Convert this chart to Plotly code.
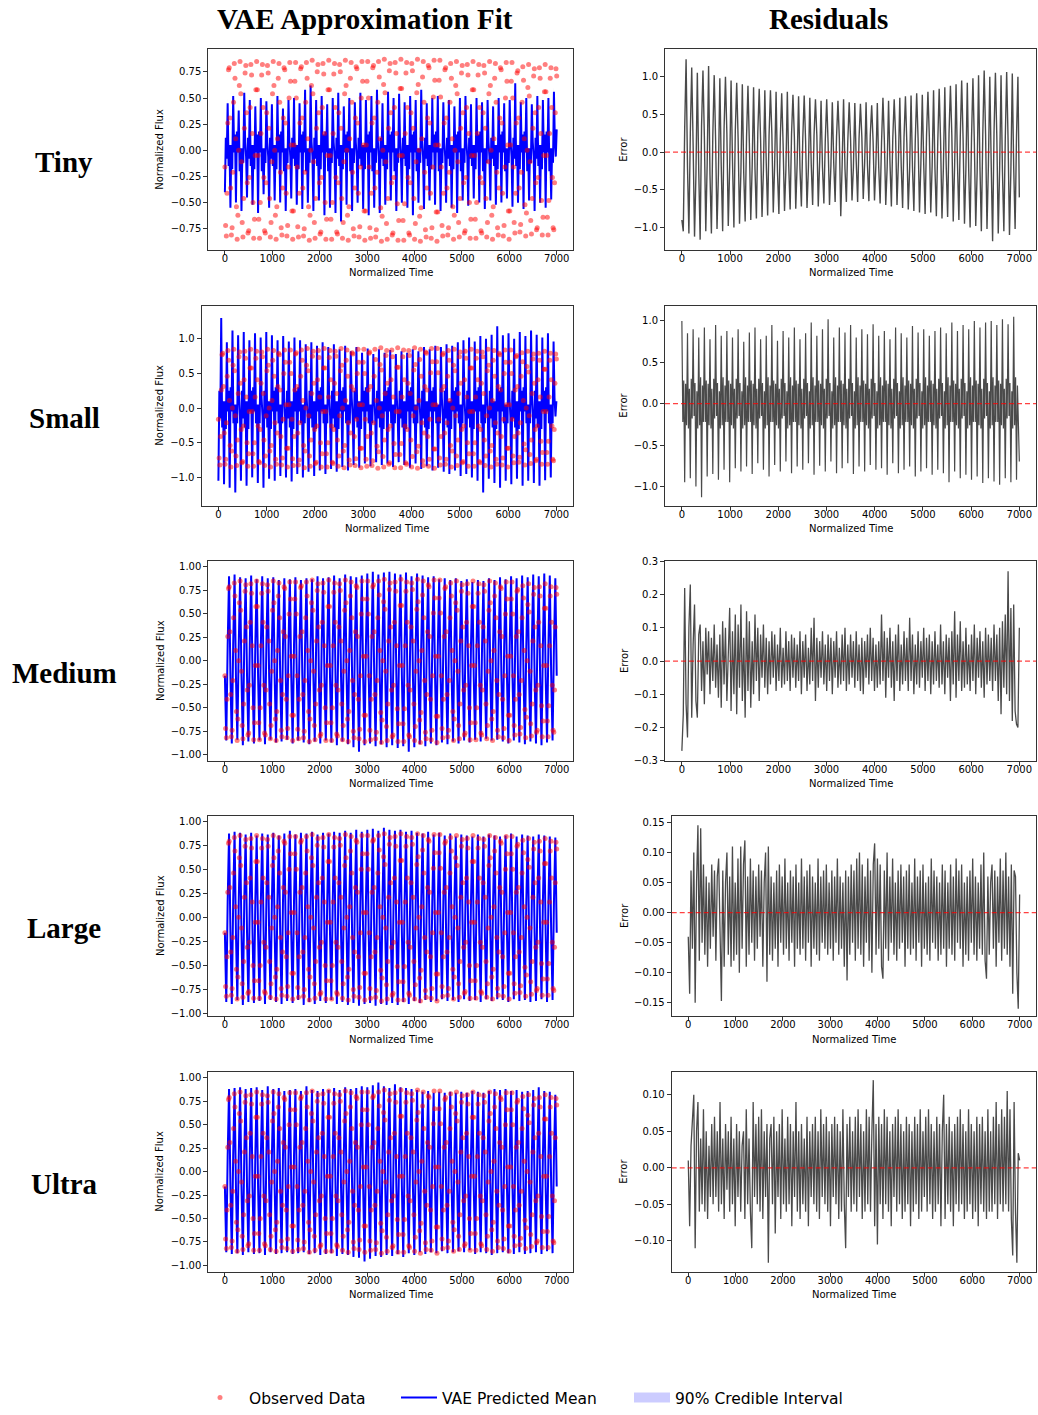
import numpy as np
import plotly.graph_objects as go

W, H = 1038, 1415

MODELS = ["Tiny", "Small", "Medium", "Large", "Ultra"]
COL_TITLES = ["VAE Approximation Fit", "Residuals"]
X_TITLE = "Normalized Time"
FLUX_TITLE = "Normalized Flux"
ERR_TITLE = "Error"
LEGEND_NAMES = ["Observed Data", "VAE Predicted Mean", "90% Credible Interval"]

# ---------------- observed data (same in every panel) ----------------
OBS_FLUX = [
    -0.16, -0.72, -0.82, -0.41, 0.26, 0.77, 0.79, 0.31, -0.36, -0.81,
    -0.74, -0.21, 0.46, 0.83, 0.69, 0.11, -0.54, -0.85, -0.62, 0.00,
    0.62, 0.85, 0.54, -0.11, -0.69, -0.83, -0.46, 0.21, 0.74, 0.81,
    0.36, -0.31, -0.79, -0.77, -0.26, 0.41, 0.82, 0.72, 0.16, -0.50,
    -0.84, -0.66, -0.05, 0.58, 0.85, 0.58, -0.05, -0.66, -0.84, -0.50,
    0.16, 0.72, 0.82, 0.41, -0.26, -0.77, -0.79, -0.31, 0.36, 0.81,
    0.74, 0.21, -0.46, -0.83, -0.69, -0.11, 0.54, 0.85, 0.62, 0.00,
    -0.62, -0.85, -0.54, 0.11, 0.69, 0.83, 0.46, -0.21, -0.74, -0.81,
    -0.36, 0.31, 0.79, 0.77, 0.26, -0.41, -0.82, -0.72, -0.16, 0.50,
    0.84, 0.66, 0.05, -0.58, -0.85, -0.58, 0.05, 0.66, 0.84, 0.50,
    -0.16, -0.73, -0.83, -0.41, 0.26, 0.78, 0.80, 0.31, -0.36, -0.82,
    -0.75, -0.21, 0.46, 0.84, 0.69, 0.11, -0.54, -0.86, -0.62, 0.00,
    0.62, 0.86, 0.54, -0.11, -0.69, -0.84, -0.46, 0.21, 0.75, 0.82,
    0.36, -0.31, -0.80, -0.78, -0.26, 0.41, 0.83, 0.73, 0.16, -0.50,
    -0.85, -0.66, -0.05, 0.58, 0.86, 0.58, -0.05, -0.66, -0.85, -0.50,
    0.16, 0.73, 0.83, 0.41, -0.26, -0.78, -0.80, -0.31, 0.36, 0.82,
    0.75, 0.21, -0.46, -0.84, -0.69, -0.11, 0.54, 0.86, 0.62, 0.00,
    -0.62, -0.86, -0.54, 0.11, 0.69, 0.84, 0.46, -0.21, -0.75, -0.82,
    -0.36, 0.31, 0.80, 0.78, 0.26, -0.41, -0.83, -0.73, -0.16, 0.50,
    0.85, 0.66, 0.05, -0.58, -0.86, -0.58, 0.05, 0.66, 0.85, 0.50,
    -0.16, -0.74, -0.84, -0.41, 0.26, 0.79, 0.81, 0.31, -0.36, -0.83,
    -0.76, -0.21, 0.46, 0.85, 0.70, 0.11, -0.55, -0.87, -0.63, 0.00,
    0.63, 0.87, 0.55, -0.11, -0.70, -0.85, -0.46, 0.21, 0.76, 0.83,
    0.36, -0.31, -0.81, -0.79, -0.26, 0.41, 0.84, 0.74, 0.16, -0.51,
    -0.86, -0.67, -0.05, 0.59, 0.87, 0.59, -0.05, -0.67, -0.86, -0.51,
    0.16, 0.74, 0.84, 0.41, -0.26, -0.79, -0.81, -0.31, 0.36, 0.83,
    0.76, 0.21, -0.46, -0.85, -0.70, -0.11, 0.55, 0.87, 0.63, 0.00,
    -0.63, -0.87, -0.55, 0.11, 0.70, 0.85, 0.46, -0.21, -0.76, -0.83,
    -0.36, 0.31, 0.81, 0.79, 0.26, -0.41, -0.84, -0.74, -0.16, 0.51,
    0.86, 0.67, 0.05, -0.59, -0.87, -0.59, 0.05, 0.67, 0.86, 0.51,
    -0.16, -0.72, -0.82, -0.41, 0.26, 0.77, 0.79, 0.31, -0.36, -0.81,
    -0.74, -0.21, 0.46, 0.83, 0.69, 0.11, -0.54, -0.85, -0.62, 0.00,
    0.62, 0.85, 0.54, -0.11, -0.69, -0.83, -0.46, 0.21, 0.74, 0.81,
    0.36, -0.31, -0.79, -0.77, -0.26, 0.41, 0.82, 0.72, 0.16, -0.50,
    -0.84, -0.66, -0.05, 0.58, 0.85, 0.58, -0.05, -0.66, -0.84, -0.50,
    0.16, 0.72, 0.82, 0.41, -0.26, -0.77, -0.79, -0.31, 0.36, 0.81,
    0.74, 0.21, -0.46, -0.83, -0.69, -0.11, 0.54, 0.85, 0.62, 0.00,
    -0.62, -0.85, -0.54, 0.11, 0.69, 0.83, 0.46, -0.21, -0.74, -0.81,
    -0.36, 0.31, 0.79, 0.77, 0.26, -0.41, -0.82, -0.72, -0.16, 0.50,
    0.84, 0.66, 0.05, -0.58, -0.85, -0.58, 0.05, 0.66, 0.84, 0.50,
    -0.16, -0.69, -0.79, -0.41, 0.26, 0.74, 0.76, 0.31, -0.36, -0.78,
    -0.71, -0.21, 0.46, 0.80, 0.67, 0.11, -0.52, -0.82, -0.60, 0.00,
    0.60, 0.82, 0.52, -0.11, -0.67, -0.80, -0.46, 0.21, 0.71, 0.78,
    0.36, -0.31, -0.76, -0.74, -0.26, 0.41, 0.79, 0.69, 0.16, -0.48,
    -0.81, -0.64, -0.05, 0.56, 0.82, 0.56, -0.05, -0.64, -0.81, -0.48,
    0.16, 0.69, 0.79, 0.41, -0.26, -0.74, -0.76, -0.31, 0.36, 0.78,
    0.71,
]

# ---------------- VAE predicted means ----------------
MEAN_TINY = [
    -0.40, 0.12, -0.08, 0.45, -0.15, 0.05, -0.55, 0.05, -0.18, 0.52, -0.02, 0.15, -0.50, 0.18, -0.02, 0.38, -0.20, 0.02,
    -0.58, 0.02, -0.12, 0.55, 0.08, -0.06, -0.45, 0.12, -0.08, 0.48, -0.15, 0.05,
    -0.52, 0.05, -0.18, 0.42, -0.02, 0.15, -0.60, 0.18, -0.02, 0.50, -0.20, 0.02, -0.42, 0.02, -0.12, 0.47, 0.08, -0.06,
    -0.55, 0.12, -0.08, 0.44, -0.15, 0.05, -0.48, 0.05, -0.18, 0.52, -0.02, 0.15,
    -0.50, 0.18, -0.02, 0.40, -0.20, 0.02, -0.58, 0.02, -0.12, 0.48, 0.08, -0.06, -0.46, 0.12, -0.08, 0.50, -0.15, 0.05,
    -0.52, 0.05, -0.18, 0.45, -0.02, 0.15, -0.56, 0.18, -0.02, 0.58, -0.20, 0.02,
    -0.50, 0.02, -0.12, 0.62, 0.08, -0.06, -0.58, 0.12, -0.08, 0.48, -0.15, 0.05, -0.48, 0.05, -0.18, 0.52, -0.02, 0.15,
    -0.62, 0.18, -0.02, 0.44, -0.20, 0.02, -0.55, 0.02, -0.12, 0.50, 0.08, -0.06,
    -0.60, 0.12, -0.08, 0.55, -0.15, 0.05, -0.68, 0.05, -0.18, 0.42, -0.02, 0.15, -0.52, 0.18, -0.02, 0.50, -0.20, 0.02,
    -0.58, 0.02, -0.12, 0.46, 0.08, -0.06, -0.50, 0.12, -0.08, 0.55, -0.15, 0.05,
    -0.56, 0.05, -0.18, 0.48, -0.02, 0.15, -0.62, 0.18, -0.02, 0.52, -0.20, 0.02, -0.55, 0.02, -0.12, 0.58, 0.08, -0.06,
    -0.60, 0.12, -0.08, 0.45, -0.15, 0.05, -0.52, 0.05, -0.18, 0.56, -0.02, 0.15,
    -0.48, 0.18, -0.02, 0.50, -0.20, 0.02, -0.58, 0.02, -0.12, 0.54, 0.08, -0.06, -0.50, 0.12, -0.08, 0.46, -0.15, 0.05,
    -0.55, 0.05, -0.18, 0.52, -0.02, 0.15, -0.62, 0.18, -0.02, 0.48, -0.20, 0.02,
    -0.50, 0.02, -0.12, 0.58, 0.08, -0.06, -0.56, 0.12, -0.08, 0.45, -0.15, 0.05, -0.48, 0.05, -0.18, 0.50, -0.02, 0.15,
    -0.52, 0.18, -0.02, 0.52, -0.20, 0.02, -0.58, 0.02, -0.12, 0.46, 0.08, -0.06,
    -0.50, 0.12, -0.08, 0.48, -0.15, 0.05, -0.55, 0.05, -0.18, 0.42, -0.02, 0.15, -0.60, 0.18, -0.02, 0.50, -0.20, 0.02,
    -0.48, 0.02, -0.12, 0.52, 0.08, -0.06, -0.53, 0.12, -0.08, 0.44, -0.15, 0.05,
    -0.46, 0.05, -0.18, 0.50, -0.02, 0.15, -0.50, 0.18, -0.02, 0.46, -0.20, 0.02, -0.56, 0.02, -0.12, 0.48, 0.08, -0.06,
    -0.48, 0.12, -0.08, 0.42, -0.15, 0.05, -0.52, 0.05, -0.18, 0.50, -0.02, 0.15,
    -0.50, 0.18, -0.02, 0.45, -0.20, 0.02, -0.46, 0.02, -0.12, 0.48, 0.08, -0.06, -0.54, 0.12, -0.08, 0.64, -0.15, 0.05,
    -0.50, 0.05, -0.18, 0.46, -0.02, 0.15, -0.56, 0.18, -0.02, 0.50, -0.20, 0.02,
    -0.48, 0.02, -0.12, 0.44, 0.08, -0.06, -0.58, 0.12, -0.08, 0.52, -0.15, 0.05, -0.50, 0.05, -0.18, 0.48, -0.02, 0.15,
    -0.55, 0.18, -0.02, 0.50, -0.20, 0.02, -0.47, 0.02, -0.12, 0.56, 0.08, -0.06,
    0.20,
]
MEAN_SMALL = [
    -1.05, 0.25, -0.15, 1.30, -0.28, 0.10, -1.10, 0.10, -0.30, 0.95, -0.05, 0.25, -1.15, 0.30, -0.05, 1.12, -0.22, 0.05,
    -1.22, 0.05, -0.22, 1.05, 0.15, -0.12, -1.05, 0.25, -0.15, 1.10, -0.28, 0.10,
    -1.12, 0.10, -0.30, 0.98, -0.05, 0.25, -1.00, 0.30, -0.05, 1.08, -0.22, 0.05, -1.08, 0.05, -0.22, 1.02, 0.15, -0.12,
    -1.15, 0.25, -0.15, 1.10, -0.28, 0.10, -1.02, 0.10, -0.30, 1.05, -0.05, 0.25,
    -1.05, 0.30, -0.05, 0.98, -0.22, 0.05, -0.98, 0.05, -0.22, 1.04, 0.15, -0.12, -1.00, 0.25, -0.15, 0.96, -0.28, 0.10,
    -1.06, 0.10, -0.30, 1.02, -0.05, 0.25, -0.95, 0.30, -0.05, 0.98, -0.22, 0.05,
    -1.00, 0.05, -0.22, 0.92, 0.15, -0.12, -0.92, 0.25, -0.15, 0.95, -0.28, 0.10, -0.98, 0.10, -0.30, 0.90, -0.05, 0.25,
    -0.90, 0.30, -0.05, 0.95, -0.22, 0.05, -0.95, 0.05, -0.22, 0.88, 0.15, -0.12,
    -0.88, 0.25, -0.15, 0.92, -0.28, 0.10, -0.92, 0.10, -0.30, 0.85, -0.05, 0.25, -0.85, 0.30, -0.05, 0.90, -0.22, 0.05,
    -0.90, 0.05, -0.22, 0.82, 0.15, -0.12, -0.82, 0.25, -0.15, 0.88, -0.28, 0.10,
    -0.86, 0.10, -0.30, 0.80, -0.05, 0.25, -0.80, 0.30, -0.05, 0.86, -0.22, 0.05, -0.84, 0.05, -0.22, 0.78, 0.15, -0.12,
    -0.78, 0.25, -0.15, 0.85, -0.28, 0.10, -0.82, 0.10, -0.30, 0.80, -0.05, 0.25,
    -0.80, 0.30, -0.05, 0.84, -0.22, 0.05, -0.85, 0.05, -0.22, 0.78, 0.15, -0.12, -0.78, 0.25, -0.15, 0.82, -0.28, 0.10,
    -0.82, 0.10, -0.30, 0.80, -0.05, 0.25, -0.86, 0.30, -0.05, 0.85, -0.22, 0.05,
    -0.80, 0.05, -0.22, 0.82, 0.15, -0.12, -0.88, 0.25, -0.15, 0.88, -0.28, 0.10, -0.84, 0.10, -0.30, 0.85, -0.05, 0.25,
    -0.90, 0.30, -0.05, 0.90, -0.22, 0.05, -0.86, 0.05, -0.22, 0.88, 0.15, -0.12,
    -0.92, 0.25, -0.15, 0.92, -0.28, 0.10, -0.95, 0.10, -0.30, 0.90, -0.05, 0.25, -0.90, 0.30, -0.05, 0.95, -0.22, 0.05,
    -0.98, 0.05, -0.22, 0.98, 0.15, -0.12, -0.95, 0.25, -0.15, 1.02, -0.28, 0.10,
    -1.00, 0.10, -0.30, 0.96, -0.05, 0.25, -1.05, 0.30, -0.05, 1.04, -0.22, 0.05, -1.22, 0.05, -0.22, 1.00, 0.15, -0.12,
    -1.02, 0.25, -0.15, 1.06, -0.28, 0.10, -1.08, 0.10, -0.30, 1.18, -0.05, 0.25,
    -1.15, 0.30, -0.05, 1.05, -0.22, 0.05, -1.05, 0.05, -0.22, 1.08, 0.15, -0.12, -1.10, 0.25, -0.15, 1.00, -0.28, 0.10,
    -1.02, 0.10, -0.30, 1.10, -0.05, 0.25, -1.12, 0.30, -0.05, 1.04, -0.22, 0.05,
    -1.05, 0.05, -0.22, 1.12, 0.15, -0.12, -1.08, 0.25, -0.15, 1.06, -0.28, 0.10, -1.12, 0.10, -0.30, 1.02, -0.05, 0.25,
    -1.04, 0.30, -0.05, 1.08, -0.22, 0.05, -1.00, 0.05, -0.22, 0.96, 0.15, -0.12,
    0.10,
]
MEAN_MEDIUM = [
    -0.16, -0.85, 0.16, 0.90, -0.15, -0.88, 0.17, 0.92, -0.17, -0.84, 0.15, 0.89, -0.16, -0.90, 0.16, 0.88, -0.15, -0.86, 0.17, 0.91,
    -0.17, -0.88, 0.16, 0.87, -0.16, -0.85, 0.15, 0.90, -0.15, -0.89, 0.16, 0.88, -0.16, -0.84, 0.17, 0.89, -0.17, -0.87, 0.16, 0.86,
    -0.16, -0.86, 0.15, 0.88, -0.15, -0.84, 0.16, 0.87, -0.16, -0.88, 0.17, 0.89, -0.17, -0.85, 0.16, 0.86, -0.16, -0.87, 0.15, 0.88,
    -0.15, -0.89, 0.16, 0.87, -0.16, -0.86, 0.17, 0.90, -0.17, -0.88, 0.16, 0.88, -0.16, -0.85, 0.15, 0.89, -0.15, -0.87, 0.16, 0.91,
    -0.16, -0.90, 0.17, 0.88, -0.17, -0.86, 0.16, 0.92, -0.16, -0.89, 0.15, 0.90, -0.15, -0.92, 0.16, 0.89, -0.16, -0.97, 0.17, 0.91,
    -0.17, -0.90, 0.16, 0.93, -0.16, -0.88, 0.15, 0.95, -0.15, -0.91, 0.16, 0.92, -0.16, -0.89, 0.17, 0.94, -0.17, -0.92, 0.16, 0.95,
    -0.16, -0.90, 0.15, 0.93, -0.15, -0.93, 0.16, 0.92, -0.16, -0.91, 0.17, 0.94, -0.17, -0.97, 0.16, 0.90, -0.16, -0.92, 0.15, 0.93,
    -0.15, -0.89, 0.16, 0.91, -0.16, -0.91, 0.17, 0.89, -0.17, -0.88, 0.16, 0.90, -0.16, -0.90, 0.15, 0.87, -0.15, -0.87, 0.16, 0.88,
    -0.16, -0.89, 0.17, 0.86, -0.17, -0.86, 0.16, 0.88, -0.16, -0.88, 0.15, 0.85, -0.15, -0.85, 0.16, 0.87, -0.16, -0.87, 0.17, 0.84,
    -0.17, -0.84, 0.16, 0.86, -0.16, -0.86, 0.15, 0.85, -0.15, -0.83, 0.16, 0.88, -0.16, -0.85, 0.17, 0.86, -0.17, -0.84, 0.16, 0.89,
    -0.16, -0.86, 0.15, 0.87, -0.15, -0.88, 0.16, 0.90, -0.16, -0.85, 0.17, 0.88, -0.17, -0.87, 0.16, 0.91, -0.16, -0.89, 0.15, 0.89,
    -0.15, -0.86, 0.16, 0.92, -0.16, -0.88, 0.17, 0.90, -0.17, -0.90, 0.16, 0.93, -0.16, -0.87, 0.15, 0.91, -0.15, -0.85, 0.16, 0.88,
    -0.16,
]
MEAN_LARGE = [
    -0.16, -0.88, 0.16, 0.87, -0.15, -0.90, 0.17, 0.89, -0.17, -0.86, 0.15, 0.88, -0.16, -0.91, 0.16, 0.86, -0.15, -0.88, 0.17, 0.88,
    -0.17, -0.89, 0.16, 0.85, -0.16, -0.87, 0.15, 0.87, -0.15, -0.90, 0.16, 0.86, -0.16, -0.86, 0.17, 0.88, -0.17, -0.88, 0.16, 0.85,
    -0.16, -0.90, 0.15, 0.87, -0.15, -0.87, 0.16, 0.90, -0.16, -0.89, 0.17, 0.86, -0.17, -0.86, 0.16, 0.88, -0.16, -0.91, 0.15, 0.87,
    -0.15, -0.88, 0.16, 0.89, -0.16, -0.90, 0.17, 0.86, -0.17, -0.87, 0.16, 0.88, -0.16, -0.89, 0.15, 0.87, -0.15, -0.86, 0.16, 0.89,
    -0.16, -0.90, 0.17, 0.88, -0.17, -0.88, 0.16, 0.90, -0.16, -0.91, 0.15, 0.88, -0.15, -0.89, 0.16, 0.91, -0.16, -0.92, 0.17, 0.89,
    -0.17, -0.90, 0.16, 0.91, -0.16, -0.89, 0.15, 0.92, -0.15, -0.92, 0.16, 0.90, -0.16, -0.90, 0.17, 0.93, -0.17, -0.91, 0.16, 0.91,
    -0.16, -0.89, 0.15, 0.90, -0.15, -0.91, 0.16, 0.91, -0.16, -0.88, 0.17, 0.89, -0.17, -0.90, 0.16, 0.90, -0.16, -0.87, 0.15, 0.88,
    -0.15, -0.89, 0.16, 0.87, -0.16, -0.86, 0.17, 0.89, -0.17, -0.88, 0.16, 0.86, -0.16, -0.87, 0.15, 0.88, -0.15, -0.85, 0.16, 0.85,
    -0.16, -0.87, 0.17, 0.87, -0.17, -0.86, 0.16, 0.84, -0.16, -0.88, 0.15, 0.86, -0.15, -0.85, 0.16, 0.85, -0.16, -0.87, 0.17, 0.84,
    -0.17, -0.86, 0.16, 0.86, -0.16, -0.88, 0.15, 0.84, -0.15, -0.85, 0.16, 0.86, -0.16, -0.87, 0.17, 0.85, -0.17, -0.85, 0.16, 0.84,
    -0.16, -0.86, 0.15, 0.85, -0.15, -0.88, 0.16, 0.87, -0.16, -0.85, 0.17, 0.84, -0.17, -0.87, 0.16, 0.86, -0.16, -0.86, 0.15, 0.85,
    -0.15, -0.88, 0.16, 0.84, -0.16, -0.87, 0.17, 0.86, -0.17, -0.85, 0.16, 0.85, -0.16, -0.88, 0.15, 0.84, -0.15, -0.86, 0.16, 0.83,
    -0.16,
]
MEAN_ULTRA = [
    -0.16, -0.86, 0.16, 0.88, -0.15, -0.88, 0.17, 0.89, -0.17, -0.87, 0.15, 0.90, -0.16, -0.89, 0.16, 0.88, -0.15, -0.86, 0.17, 0.89,
    -0.17, -0.88, 0.16, 0.90, -0.16, -0.87, 0.15, 0.87, -0.15, -0.89, 0.16, 0.91, -0.16, -0.86, 0.17, 0.88, -0.17, -0.88, 0.16, 0.89,
    -0.16, -0.87, 0.15, 0.86, -0.15, -0.86, 0.16, 0.87, -0.16, -0.88, 0.17, 0.88, -0.17, -0.87, 0.16, 0.86, -0.16, -0.86, 0.15, 0.91,
    -0.15, -0.88, 0.16, 0.87, -0.16, -0.87, 0.17, 0.86, -0.17, -0.89, 0.16, 0.88, -0.16, -0.88, 0.15, 0.87, -0.15, -0.87, 0.16, 0.89,
    -0.16, -0.90, 0.17, 0.87, -0.17, -0.88, 0.16, 0.90, -0.16, -0.89, 0.15, 0.88, -0.15, -0.91, 0.16, 0.89, -0.16, -0.92, 0.17, 0.91,
    -0.17, -0.96, 0.16, 0.90, -0.16, -0.93, 0.15, 0.92, -0.15, -0.90, 0.16, 0.95, -0.16, -0.91, 0.17, 0.91, -0.17, -0.89, 0.16, 0.89,
    -0.16, -0.90, 0.15, 0.93, -0.15, -0.88, 0.16, 0.90, -0.16, -0.91, 0.17, 0.89, -0.17, -0.87, 0.16, 0.88, -0.16, -0.89, 0.15, 0.87,
    -0.15, -0.86, 0.16, 0.85, -0.16, -0.88, 0.17, 0.86, -0.17, -0.86, 0.16, 0.84, -0.16, -0.87, 0.15, 0.85, -0.15, -0.85, 0.16, 0.84,
    -0.16, -0.87, 0.17, 0.85, -0.17, -0.86, 0.16, 0.84, -0.16, -0.85, 0.15, 0.85, -0.15, -0.86, 0.16, 0.84, -0.16, -0.84, 0.17, 0.86,
    -0.17, -0.88, 0.16, 0.85, -0.16, -0.86, 0.15, 0.84, -0.15, -0.87, 0.16, 0.86, -0.16, -0.89, 0.17, 0.88, -0.17, -0.87, 0.16, 0.87,
    -0.16, -0.86, 0.15, 0.88, -0.15, -0.87, 0.16, 0.86, -0.16, -0.88, 0.17, 0.87, -0.17, -0.86, 0.16, 0.85, -0.16, -0.88, 0.15, 0.86,
    -0.15, -0.87, 0.16, 0.87, -0.16, -0.86, 0.17, 0.90, -0.17, -0.88, 0.16, 0.86, -0.16, -0.85, 0.15, 0.85, -0.15, -0.87, 0.16, 0.82,
    -0.16,
]

# ---------------- residuals ----------------
RESID_TINY = [
    -0.90, -1.05, 0.30, 1.23, -0.20, -1.08, 0.25, 1.12, 0.10, -1.12, -0.30, 1.05, -0.25, -1.16, 0.35, 1.08, 0.20, -1.05, -0.15, 1.14,
    -0.30, -1.08, 0.22, 1.02, 0.15, -1.02, -0.28, 0.98, -0.18, -1.05, 0.30, 1.00, 0.25, -0.98, -0.20, 0.95, -0.12, -1.00, 0.28, 0.92,
    0.18, -0.95, -0.25, 0.90, -0.28, -0.92, 0.20, 0.88, 0.12, -0.90, -0.18, 0.86, -0.22, -0.88, 0.26, 0.84, 0.16, -0.86, -0.24, 0.82,
    -0.14, -0.84, 0.22, 0.82, 0.24, -0.80, -0.16, 0.80, -0.26, -0.82, 0.18, 0.78, 0.10, -0.78, -0.22, 0.80, -0.18, -0.76, 0.24, 0.76,
    0.20, -0.75, -0.14, 0.74, -0.22, -0.72, 0.18, 0.75, 0.14, -0.74, -0.20, 0.72, -0.16, -0.70, 0.22, 0.70, 0.22, -0.72, -0.12, 0.68,
    -0.20, -0.68, 0.16, 0.70, 0.12, -0.70, -0.18, 0.66, -0.14, -0.66, 0.20, 0.68, 0.18, -0.85, -0.16, 0.70, -0.22, -0.66, 0.14, 0.66,
    0.16, -0.64, -0.20, 0.65, -0.12, -0.66, 0.18, 0.64, 0.20, -0.62, -0.14, 0.66, -0.18, -0.65, 0.22, 0.62, 0.14, -0.64, -0.16, 0.65,
    -0.20, -0.68, 0.12, 0.72, 0.16, -0.70, -0.20, 0.68, -0.14, -0.72, 0.18, 0.70, 0.22, -0.70, -0.12, 0.72, -0.18, -0.74, 0.20, 0.74,
    0.12, -0.76, -0.22, 0.75, -0.20, -0.78, 0.16, 0.78, 0.18, -0.80, -0.14, 0.76, -0.16, -0.82, 0.22, 0.80, 0.20, -0.80, -0.18, 0.82,
    -0.22, -0.85, 0.14, 0.84, 0.14, -0.88, -0.20, 0.86, -0.18, -0.86, 0.24, 0.88, 0.22, -0.92, -0.16, 0.90, -0.14, -0.90, 0.20, 0.95,
    0.18, -0.95, -0.22, 0.92, -0.24, -1.00, 0.18, 0.98, 0.14, -0.98, -0.26, 1.02, -0.20, -1.05, 0.22, 1.08, 0.24, -1.02, -0.18, 1.00,
    -0.16, -1.18, 0.26, 1.05, 0.20, -1.08, -0.22, 1.02, -0.26, -1.05, 0.18, 1.06, 0.16, -1.10, -0.24, 1.04, -0.20, -1.02, 0.22, 1.00,
    -0.60,
]
RESID_SMALL = [
    1.00, -0.22, 0.28, -0.95, 0.24, -0.26, 0.85, -0.30, 0.18, -0.90, 0.30, -0.18, 0.90, -0.15, 0.25, -1.00, 0.15, -0.30,
    0.80, -0.26, 0.32, -1.13, 0.22, -0.22, 0.92, -0.22, 0.28, -0.88, 0.24, -0.26,
    0.78, -0.30, 0.18, -0.85, 0.30, -0.18, 0.95, -0.15, 0.25, -0.92, 0.15, -0.30, 0.82, -0.26, 0.32, -0.80, 0.22, -0.22,
    0.88, -0.22, 0.28, -0.95, 0.24, -0.26, 0.80, -0.30, 0.18, -0.78, 0.30, -0.18,
    0.90, -0.15, 0.25, -0.82, 0.15, -0.30, 0.75, -0.26, 0.32, -0.76, 0.22, -0.22, 0.86, -0.22, 0.28, -0.85, 0.24, -0.26,
    0.92, -0.30, 0.18, -0.72, 0.30, -0.18, 0.78, -0.15, 0.25, -0.80, 0.15, -0.30,
    0.82, -0.26, 0.32, -0.88, 0.22, -0.22, 0.95, -0.22, 0.28, -0.74, 0.24, -0.26, 0.76, -0.30, 0.18, -0.82, 0.30, -0.18,
    0.88, -0.15, 0.25, -0.70, 0.15, -0.30, 0.80, -0.26, 0.32, -0.84, 0.22, -0.22,
    0.92, -0.22, 0.28, -0.76, 0.24, -0.26, 0.78, -0.30, 0.18, -0.80, 0.30, -0.18, 0.85, -0.15, 0.25, -0.72, 0.15, -0.30,
    0.98, -0.26, 0.32, -0.86, 0.22, -0.22, 0.82, -0.22, 0.28, -0.75, 0.24, -0.26,
    0.90, -0.30, 0.18, -0.82, 0.30, -0.18, 1.02, -0.15, 0.25, -0.70, 0.15, -0.30, 0.80, -0.26, 0.32, -0.84, 0.22, -0.22,
    0.92, -0.22, 0.28, -0.78, 0.24, -0.26, 0.86, -0.30, 0.18, -0.72, 0.30, -0.18,
    0.95, -0.15, 0.25, -0.85, 0.15, -0.30, 0.80, -0.26, 0.32, -0.76, 0.22, -0.22, 0.90, -0.22, 0.28, -0.82, 0.24, -0.26,
    0.84, -0.30, 0.18, -0.74, 0.30, -0.18, 0.96, -0.15, 0.25, -0.80, 0.15, -0.30,
    0.82, -0.26, 0.32, -0.78, 0.22, -0.22, 0.88, -0.22, 0.28, -0.86, 0.24, -0.26, 0.78, -0.30, 0.18, -0.72, 0.30, -0.18,
    0.92, -0.15, 0.25, -0.84, 0.15, -0.30, 0.85, -0.26, 0.32, -0.80, 0.22, -0.22,
    0.80, -0.22, 0.28, -0.76, 0.24, -0.26, 0.94, -0.30, 0.18, -0.88, 0.30, -0.18, 0.86, -0.15, 0.25, -0.82, 0.15, -0.30,
    0.90, -0.26, 0.32, -0.78, 0.22, -0.22, 0.82, -0.22, 0.28, -0.86, 0.24, -0.26,
    0.88, -0.30, 0.18, -0.80, 0.30, -0.18, 0.92, -0.15, 0.25, -0.84, 0.15, -0.30, 0.85, -0.26, 0.32, -0.95, 0.22, -0.22,
    0.98, -0.22, 0.28, -0.82, 0.24, -0.26, 0.88, -0.30, 0.18, -0.90, 0.30, -0.18,
    0.95, -0.15, 0.25, -0.86, 0.15, -0.30, 0.90, -0.26, 0.32, -0.92, 0.22, -0.22, 1.00, -0.22, 0.28, -0.88, 0.24, -0.26,
    0.92, -0.30, 0.18, -0.96, 0.30, -0.18, 0.98, -0.15, 0.25, -0.90, 0.15, -0.30,
    1.00, -0.26, 0.32, -0.94, 0.22, -0.22, 0.95, -0.22, 0.28, -0.98, 0.24, -0.26, 1.02, -0.30, 0.18, -0.90, 0.30, -0.18,
    0.96, -0.15, 0.25, -0.95, 0.15, -0.30, 1.05, -0.26, 0.32, -0.92, 0.22, -0.22,
    -0.70,
]
RESID_MEDIUM = [
    -0.27, -0.16, 0.22, -0.13, -0.23, 0.10, 0.23, -0.17, 0.05, 0.17, -0.12, -0.17, 0.08, 0.11, -0.09, 0.06, -0.13, 0.10, -0.04, 0.09,
    -0.10, 0.07, -0.06, 0.11, -0.08, 0.05, -0.11, 0.08, -0.14, 0.12, -0.07, 0.10, -0.12, 0.06, 0.16, -0.15, 0.09, -0.10, 0.14, -0.16,
    0.11, -0.08, 0.17, -0.12, 0.07, -0.17, 0.15, -0.09, 0.12, -0.14, 0.06, -0.10, 0.14, -0.06, 0.10, -0.12, 0.08, -0.05, 0.11, -0.08,
    0.07, -0.10, 0.06, -0.07, 0.09, -0.05, 0.08, -0.09, 0.05, -0.06, 0.10, -0.08, 0.04, -0.07, 0.09, -0.06, 0.06, -0.09, 0.08, -0.05,
    0.07, -0.08, 0.05, -0.06, 0.09, -0.10, 0.06, -0.05, 0.08, -0.09, 0.04, -0.07, 0.10, -0.06, 0.13, -0.12, 0.07, -0.08, 0.06, -0.05,
    0.09, -0.07, 0.05, -0.09, 0.08, -0.06, 0.07, -0.10, 0.06, -0.05, 0.09, -0.08, 0.04, -0.07, 0.08, -0.06, 0.10, -0.09, 0.05, -0.07,
    0.08, -0.05, 0.06, -0.08, 0.09, -0.06, 0.05, -0.09, 0.07, -0.10, 0.06, -0.05, 0.08, -0.07, 0.10, -0.06, 0.07, -0.09, 0.05, -0.08,
    0.06, -0.07, 0.14, -0.06, 0.09, -0.11, 0.07, -0.05, 0.10, -0.08, 0.06, -0.12, 0.08, -0.06, 0.11, -0.09, 0.05, -0.07, 0.09, -0.06,
    0.07, -0.09, 0.13, -0.06, 0.08, -0.10, 0.05, -0.07, 0.09, -0.08, 0.06, -0.05, 0.10, -0.09, 0.07, -0.06, 0.08, -0.10, 0.06, -0.07,
    0.09, -0.06, 0.05, -0.08, 0.11, -0.07, 0.06, -0.10, 0.08, -0.05, 0.07, -0.12, 0.09, -0.07, 0.15, -0.11, 0.08, -0.06, 0.12, -0.09,
    0.06, -0.08, 0.10, -0.07, 0.05, -0.09, 0.08, -0.06, 0.11, -0.10, 0.07, -0.05, 0.09, -0.08, 0.06, -0.11, 0.10, -0.07, 0.08, -0.06,
    0.07, -0.09, 0.11, -0.06, 0.08, -0.12, 0.10, -0.16, 0.12, -0.08, 0.14, -0.10, 0.27, -0.12, 0.16, -0.18, 0.17, -0.15, -0.19, -0.20,
    0.10,
]
RESID_LARGE = [
    -0.04, -0.135, 0.07, -0.06, 0.10, -0.15, 0.05, 0.145, -0.08, 0.14, -0.05, 0.08, -0.07, 0.06, -0.09, 0.05, -0.06, 0.08, -0.04, 0.07,
    -0.08, 0.06, 0.09, -0.05, -0.147, 0.07, -0.09, 0.05, 0.10, -0.07, 0.06, -0.09, 0.11, -0.08, 0.05, -0.07, 0.09, -0.10, 0.11, -0.06,
    0.08, 0.12, -0.09, 0.06, -0.07, 0.09, -0.05, 0.07, -0.08, 0.06, -0.06, 0.08, -0.04, 0.07, -0.09, 0.05, 0.10, -0.115, 0.11, -0.07,
    0.06, -0.08, 0.05, -0.06, 0.07, -0.09, 0.08, -0.05, 0.06, -0.07, 0.09, -0.06, 0.05, -0.08, 0.07, -0.05, 0.06, -0.09, 0.08, -0.06,
    0.05, -0.07, 0.09, -0.06, 0.06, -0.08, 0.07, -0.05, 0.08, -0.09, 0.06, -0.06, 0.05, -0.07, 0.09, -0.08, 0.06, -0.05, 0.07, -0.06,
    0.08, -0.07, 0.05, -0.06, 0.07, -0.08, 0.06, -0.05, 0.09, -0.07, 0.06, -0.06, 0.05, -0.09, 0.07, -0.113, 0.06, -0.07, 0.08, -0.05,
    0.07, -0.08, 0.09, -0.06, 0.10, -0.07, 0.08, -0.09, 0.06, -0.05, 0.09, -0.08, 0.07, -0.10, 0.08, 0.115, -0.07, 0.09, -0.06, 0.08,
    -0.09, -0.11, 0.07, -0.06, 0.10, -0.08, 0.06, -0.05, 0.09, -0.07, 0.05, -0.08, 0.07, -0.06, 0.08, -0.05, 0.06, -0.09, 0.07, -0.06,
    0.08, -0.07, 0.05, -0.06, 0.09, -0.08, 0.06, -0.05, 0.07, -0.09, 0.08, -0.06, 0.05, -0.07, 0.06, -0.08, 0.09, -0.05, 0.07, -0.06,
    0.06, -0.08, 0.05, -0.07, 0.08, -0.06, 0.07, -0.09, 0.05, -0.06, 0.08, -0.07, 0.06, -0.08, 0.09, -0.05, 0.07, -0.06, 0.08, -0.09,
    0.05, -0.07, 0.06, -0.08, 0.07, -0.05, 0.09, -0.07, 0.06, -0.08, 0.05, -0.06, 0.08, -0.07, 0.10, -0.08, -0.11, 0.06, -0.07, 0.05,
    0.08, -0.06, 0.07, -0.09, 0.06, -0.05, 0.09, -0.08, 0.07, -0.06, 0.10, -0.07, 0.06, -0.09, 0.08, -0.135, 0.07, 0.06, -0.10, -0.16,
    0.03,
]
RESID_ULTRA = [
    0.01, -0.08, 0.03, 0.07, 0.10, -0.11, 0.05, 0.09, -0.06, 0.04, -0.05, 0.08, -0.06, 0.05, -0.07, 0.03, -0.04, 0.06, -0.05, 0.07,
    -0.04, 0.05, -0.06, 0.09, -0.05, 0.04, -0.07, 0.06, -0.03, 0.05, -0.06, 0.07, -0.05, 0.04, -0.08, 0.06, -0.04, 0.05, -0.06, 0.03,
    0.05, -0.07, 0.08, -0.05, 0.04, -0.06, -0.11, 0.09, -0.04, 0.06, -0.05, 0.07, -0.06, 0.08, -0.07, 0.05, -0.04, 0.06, -0.13, 0.04,
    0.06, -0.05, 0.07, -0.09, 0.05, -0.04, 0.06, -0.07, 0.08, -0.05, 0.04, -0.06, 0.07, -0.05, 0.06, -0.08, 0.05, -0.04, 0.09, -0.06,
    0.05, -0.07, 0.06, -0.05, 0.04, -0.06, 0.07, -0.08, 0.05, -0.04, 0.06, -0.05, 0.07, -0.06, 0.05, -0.07, 0.08, -0.04, 0.06, -0.05,
    0.07, -0.06, 0.05, -0.08, 0.06, -0.04, 0.07, -0.05, 0.06, -0.07, 0.05, -0.06, 0.08, -0.05, -0.11, 0.06, -0.04, 0.07, -0.06, 0.05,
    -0.05, 0.07, -0.06, 0.08, -0.04, 0.06, -0.07, 0.05, -0.06, 0.08, -0.05, 0.07, -0.06, 0.05, 0.12, -0.08, 0.06, -0.105, 0.07, -0.05,
    0.06, -0.07, 0.08, -0.05, 0.07, -0.06, 0.05, -0.08, 0.06, -0.04, 0.07, -0.06, 0.08, -0.05, 0.06, -0.07, 0.05, -0.06, 0.07, -0.05,
    0.06, -0.08, 0.05, -0.06, 0.07, -0.05, 0.06, -0.07, 0.08, -0.06, 0.05, -0.04, 0.07, -0.06, 0.08, -0.05, 0.06, -0.07, 0.05, -0.06,
    0.07, -0.05, 0.06, -0.08, 0.05, 0.10, -0.07, 0.06, -0.05, 0.07, -0.06, 0.05, -0.08, 0.06, -0.05, 0.07, -0.06, 0.08, -0.05, 0.06,
    -0.07, 0.05, -0.06, 0.08, -0.05, 0.06, -0.07, 0.05, -0.06, 0.07, -0.08, 0.06, -0.05, 0.07, -0.06, 0.05, -0.07, 0.08, -0.06, 0.05,
    -0.06, 0.07, -0.05, 0.09, -0.07, 0.06, -0.05, 0.08, -0.06, 0.07, -0.05, 0.105, -0.06, 0.08, -0.07, -0.12, 0.09, -0.06, -0.13, 0.02,
    0.01,
]

MEANS = [MEAN_TINY, MEAN_SMALL, MEAN_MEDIUM, MEAN_LARGE, MEAN_ULTRA]
RESIDS = [RESID_TINY, RESID_SMALL, RESID_MEDIUM, RESID_LARGE, RESID_ULTRA]
CI_HALF_WIDTH = [0.05, 0.06, 0.03, 0.03, 0.03]

# ---------------- ticks ----------------
X_TICKS = [0, 1000, 2000, 3000, 4000, 5000, 6000, 7000]
X_TICK_LABELS = ["0", "1000", "2000", "3000", "4000", "5000", "6000", "7000"]
FLUX_TICKS = [
    [-0.75, -0.5, -0.25, 0, 0.25, 0.5, 0.75],
    [-1.0, -0.5, 0, 0.5, 1.0],
    [-1.0, -0.75, -0.5, -0.25, 0, 0.25, 0.5, 0.75, 1.0],
    [-1.0, -0.75, -0.5, -0.25, 0, 0.25, 0.5, 0.75, 1.0],
    [-1.0, -0.75, -0.5, -0.25, 0, 0.25, 0.5, 0.75, 1.0],
]
FLUX_TICK_LABELS = [
    ["−0.75", "−0.50", "−0.25", "0.00", "0.25", "0.50", "0.75"],
    ["−1.0", "−0.5", "0.0", "0.5", "1.0"],
    ["−1.00", "−0.75", "−0.50", "−0.25", "0.00", "0.25", "0.50", "0.75", "1.00"],
    ["−1.00", "−0.75", "−0.50", "−0.25", "0.00", "0.25", "0.50", "0.75", "1.00"],
    ["−1.00", "−0.75", "−0.50", "−0.25", "0.00", "0.25", "0.50", "0.75", "1.00"],
]
ERR_TICKS = [
    [-1.0, -0.5, 0, 0.5, 1.0],
    [-1.0, -0.5, 0, 0.5, 1.0],
    [-0.3, -0.2, -0.1, 0, 0.1, 0.2, 0.3],
    [-0.15, -0.10, -0.05, 0, 0.05, 0.10, 0.15],
    [-0.10, -0.05, 0, 0.05, 0.10],
]
ERR_TICK_LABELS = [
    ["−1.0", "−0.5", "0.0", "0.5", "1.0"],
    ["−1.0", "−0.5", "0.0", "0.5", "1.0"],
    ["−0.3", "−0.2", "−0.1", "0.0", "0.1", "0.2", "0.3"],
    ["−0.15", "−0.10", "−0.05", "0.00", "0.05", "0.10", "0.15"],
    ["−0.10", "−0.05", "0.00", "0.05", "0.10"],
]

# ---------------- layout geometry (pixels) ----------------
X_RANGE = [-350, 7350]
FLUX_RANGES = [[-0.955, 0.964], [-1.41, 1.48], [-1.066, 1.06], [-1.03, 1.056], [-1.066, 1.061]]
ERR_RANGES = [[-1.30, 1.36], [-1.234, 1.186], [-0.3, 0.3], [-0.1726, 0.161], [-0.142, 0.131]]
LEFT_BOX = [(208.3, 573.3, 45, 248), (201.5, 573.3, 304, 506.5), (208.3, 573.3, 562.7, 764.5),
            (208.3, 573.3, 820, 1023), (208.3, 573.3, 1079.3, 1281)]
RIGHT_BOX = [(665, 1036.2, 45, 248), (665, 1036.2, 304, 506.5), (665, 1036.2, 562.7, 764.5),
             (671.7, 1036.2, 820, 1023), (671.7, 1036.2, 1079.3, 1281)]
RESID_WIDTH = [1.4, 1.2, 1.3, 1.3, 1.3]
LEGEND_X = [191, 396, 629]
LEGEND_ITEMWIDTH = [48, 36, 36]
LEGEND_Y = 1409


def px_x(v):
    return v / W


def px_y(v):
    return 1 - v / H


OBS_COLOR = "rgba(255,0,0,0.5)"
MEAN_COLOR = "#0000ff"
CI_COLOR = "rgba(0,0,255,0.2)"
RESID_COLOR = "#4a4a4a"
TICK_FONT = dict(family="DejaVu Sans", size=10, color="black")
LABEL_FONT = dict(family="DejaVu Sans", size=10, color="black")
HEAD_FONT = dict(family="Liberation Serif", size=29, color="black", weight="bold")
LEGEND_FONT = dict(family="DejaVu Sans", size=15.5, color="black")

fig = go.Figure()
annotations = []
shapes = []
t_obs = np.linspace(0, 7000, len(OBS_FLUX))

for r, model in enumerate(MODELS):
    li, ri = 2 * r + 1, 2 * r + 2
    xl, yl = ("x" if li == 1 else f"x{li}"), ("y" if li == 1 else f"y{li}")
    xr, yr = f"x{ri}", f"y{ri}"
    mean = np.array(MEANS[r])
    t_mean = np.linspace(0, 7000, len(mean))
    w = CI_HALF_WIDTH[r]
    first = r == 0

    fig.add_trace(go.Scatter(x=t_mean, y=mean - w, mode="lines", xaxis=xl, yaxis=yl,
                             line=dict(width=0, color=CI_COLOR), showlegend=False, hoverinfo="skip"))
    fig.add_trace(go.Scatter(x=t_mean, y=mean + w, mode="lines", xaxis=xl, yaxis=yl, fill="tonexty",
                             fillcolor=CI_COLOR, line=dict(width=0, color=CI_COLOR),
                             name=LEGEND_NAMES[2], legendgroup="ci", showlegend=False))
    fig.add_trace(go.Scatter(x=t_mean, y=mean, mode="lines", xaxis=xl, yaxis=yl,
                             line=dict(color=MEAN_COLOR, width=2),
                             name=LEGEND_NAMES[1], legend="legend2", showlegend=first))
    fig.add_trace(go.Scatter(x=t_obs, y=OBS_FLUX, mode="markers", xaxis=xl, yaxis=yl,
                             marker=dict(color=OBS_COLOR, size=5, line=dict(width=0)),
                             name=LEGEND_NAMES[0], legend="legend", showlegend=first))

    resid = RESIDS[r]
    fig.add_trace(go.Scatter(x=np.linspace(0, 7000, len(resid)), y=resid, mode="lines",
                             xaxis=xr, yaxis=yr, line=dict(color=RESID_COLOR, width=RESID_WIDTH[r]),
                             showlegend=False))
    shapes.append(dict(type="line", xref=f"{xr} domain", yref=yr, x0=0, x1=1, y0=0, y1=0,
                       line=dict(color="rgba(255,0,0,0.75)", width=1.3, dash="5px,3px")))

    common = dict(showline=True, mirror=True, linecolor="#333", linewidth=1, ticks="outside",
                  ticklen=4, tickwidth=1, tickcolor="#333", tickfont=TICK_FONT,
                  showgrid=False, zeroline=False, fixedrange=True)
    for idx, box, yrng, ytv, ytt in [(li, LEFT_BOX[r], FLUX_RANGES[r], FLUX_TICKS[r], FLUX_TICK_LABELS[r]),
                                     (ri, RIGHT_BOX[r], ERR_RANGES[r], ERR_TICKS[r], ERR_TICK_LABELS[r])]:
        x0, x1, y0, y1 = box
        xname = "xaxis" if idx == 1 else f"xaxis{idx}"
        yname = "yaxis" if idx == 1 else f"yaxis{idx}"
        fig.layout[xname] = dict(domain=[px_x(x0), px_x(x1)], range=X_RANGE,
                                 anchor=("y" if idx == 1 else f"y{idx}"),
                                 tickvals=X_TICKS, ticktext=X_TICK_LABELS,
                                 ticklabelstandoff=-5, **common)
        fig.layout[yname] = dict(domain=[px_y(y1), px_y(y0)], range=yrng,
                                 anchor=("x" if idx == 1 else f"x{idx}"),
                                 tickvals=ytv, ticktext=ytt, **common)
        annotations.append(dict(text=X_TITLE, x=px_x((x0 + x1) / 2), y=px_y(y1 + 23), xref="paper",
                                yref="paper", showarrow=False, font=LABEL_FONT,
                                xanchor="center", yanchor="middle"))

    lb, rb = LEFT_BOX[r], RIGHT_BOX[r]
    annotations.append(dict(text=FLUX_TITLE, x=px_x(160), y=px_y((lb[2] + lb[3]) / 2), xref="paper",
                            yref="paper", showarrow=False, textangle=-90, font=LABEL_FONT,
                            xanchor="center", yanchor="middle"))
    annotations.append(dict(text=ERR_TITLE, x=px_x(624), y=px_y((rb[2] + rb[3]) / 2), xref="paper",
                            yref="paper", showarrow=False, textangle=-90, font=LABEL_FONT,
                            xanchor="center", yanchor="middle"))
    annotations.append(dict(text=model, x=px_x(64), y=px_y((lb[2] + lb[3]) / 2 + 12), xref="paper",
                            yref="paper", showarrow=False, font=HEAD_FONT,
                            xanchor="center", yanchor="middle"))

# legend entry for the credible-interval band (band traces above carry no legend item)
fig.add_trace(go.Scatter(x=[None], y=[None], mode="lines", xaxis="x", yaxis="y",
                         line=dict(color=CI_COLOR, width=12), name=LEGEND_NAMES[2],
                         legend="legend3", legendgroup="ci", showlegend=True))

annotations.append(dict(text=COL_TITLES[0], x=px_x(365), y=px_y(14), xref="paper", yref="paper",
                        showarrow=False, font=HEAD_FONT, xanchor="center", yanchor="middle"))
annotations.append(dict(text=COL_TITLES[1], x=px_x(828), y=px_y(14), xref="paper", yref="paper",
                        showarrow=False, font=HEAD_FONT, xanchor="center", yanchor="middle"))


def legend_box(i):
    return dict(orientation="h", x=px_x(LEGEND_X[i]), xanchor="left", y=px_y(LEGEND_Y),
                yanchor="middle", font=LEGEND_FONT, bgcolor="rgba(0,0,0,0)",
                itemwidth=LEGEND_ITEMWIDTH[i])


fig.update_layout(
    width=W, height=H, autosize=False,
    margin=dict(l=0, r=0, t=0, b=0),
    paper_bgcolor="white", plot_bgcolor="white",
    annotations=annotations, shapes=shapes,
    showlegend=True,
    legend=legend_box(0), legend2=legend_box(1), legend3=legend_box(2),
)

fig.write_html("out.html")
